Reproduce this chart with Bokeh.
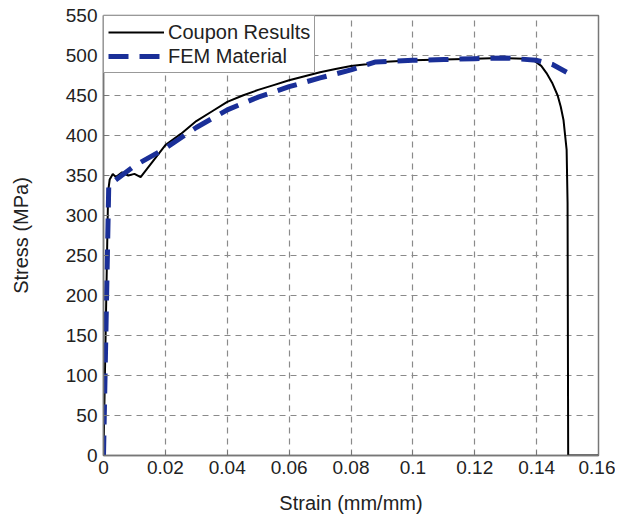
from bokeh.plotting import figure
from bokeh.models import FixedTicker, Legend, LegendItem, Range1d
from bokeh.embed import file_html
from bokeh.resources import INLINE

coupon_strain = [0, 0.0015, 0.002, 0.003, 0.004, 0.006, 0.008, 0.010, 0.012, 0.014,
                 0.016, 0.018, 0.02, 0.025, 0.03, 0.035, 0.04, 0.045, 0.05, 0.055,
                 0.06, 0.065, 0.07, 0.075, 0.08, 0.085, 0.09, 0.1, 0.11, 0.12,
                 0.128, 0.136, 0.1394, 0.1415, 0.1432, 0.145, 0.1468, 0.1478,
                 0.1487, 0.1497, 0.1500, 0.1502, 0.16]
coupon_stress = [0, 330, 345, 352, 348, 354, 350, 352, 348, 358,
                 368, 378, 388, 402, 418, 430, 442, 450, 457, 463,
                 469, 474, 479, 483, 487, 489, 492, 494, 495, 496,
                 497, 496, 493, 487, 478, 466, 450, 436,
                 419, 382, 316, 0, 0]

fem_strain = [0, 0.0017, 0.01, 0.02, 0.03, 0.04, 0.05, 0.06, 0.07, 0.08, 0.088,
              0.1, 0.11, 0.12, 0.13, 0.14, 0.145, 0.1497]
fem_stress = [0, 338, 362, 384, 410, 432, 448, 461, 472, 482, 492,
              494, 495, 496, 497, 494, 489, 479]

x_ticks = [0, 0.02, 0.04, 0.06, 0.08, 0.1, 0.12, 0.14, 0.16]
x_labels = ["0", "0.02", "0.04", "0.06", "0.08", "0.1", "0.12", "0.14", "0.16"]
y_ticks = [0, 50, 100, 150, 200, 250, 300, 350, 400, 450, 500, 550]

p = figure(width=615, height=516, output_backend="svg", toolbar_location=None,
           x_range=Range1d(0, 0.16), y_range=Range1d(0, 550),
           min_border_left=103, min_border_right=17, min_border_top=15,
           min_border_bottom=60)
p.background_fill_color = "white"
p.border_fill_color = "white"
p.outline_line_color = "#777777"
p.outline_line_width = 1.5

for ax in (p.xaxis[0], p.yaxis[0]):
    ax.axis_line_color = "#777777"
    ax.axis_line_width = 1.5
    ax.major_tick_in = 5
    ax.major_tick_out = 0
    ax.minor_tick_line_color = None
    ax.major_tick_line_color = "#777777"
    ax.major_label_text_font = "Liberation Sans"
    ax.major_label_text_font_size = "19px"
    ax.major_label_text_color = "#222222"
    ax.axis_label_text_font = "Liberation Sans"
    ax.axis_label_text_font_size = "20px"
    ax.axis_label_text_font_style = "normal"
    ax.axis_label_text_color = "#222222"

p.xaxis.ticker = FixedTicker(ticks=x_ticks)
p.xaxis.major_label_overrides = {t: l for t, l in zip(x_ticks, x_labels)}
p.yaxis.ticker = FixedTicker(ticks=y_ticks)
p.xaxis.axis_label = "Strain (mm/mm)"
p.yaxis.axis_label = "Stress (MPa)"
p.xaxis.axis_label_standoff = 15
p.yaxis.axis_label_standoff = 31
p.xaxis.major_label_standoff = 5
p.yaxis.major_label_standoff = 6

for g in (p.xgrid[0], p.ygrid[0]):
    g.grid_line_color = "#8a8a8a"
    g.grid_line_dash = "6 5"
    g.grid_line_width = 1.2

r1 = p.line(coupon_strain, coupon_stress, line_color="black", line_width=2)
r2 = p.line(fem_strain, fem_stress, line_color="#1a2f98", line_width=5,
            line_dash="20 11")

legend = Legend(items=[LegendItem(label="Coupon Results", renderers=[r1]),
                       LegendItem(label="FEM Material", renderers=[r2])],
                location="top_left")
legend.margin = 0
legend.padding = 4
legend.spacing = 0
legend.glyph_width = 56
legend.glyph_height = 24
legend.label_height = 24
legend.label_standoff = 4
legend.label_text_font = "Liberation Sans"
legend.label_text_font_size = "20px"
legend.label_text_color = "#222222"
legend.border_line_color = "#333333"
legend.border_line_width = 1.5
legend.background_fill_alpha = 1
p.add_layout(legend)

open("out.html", "w").write(file_html(p, INLINE))
